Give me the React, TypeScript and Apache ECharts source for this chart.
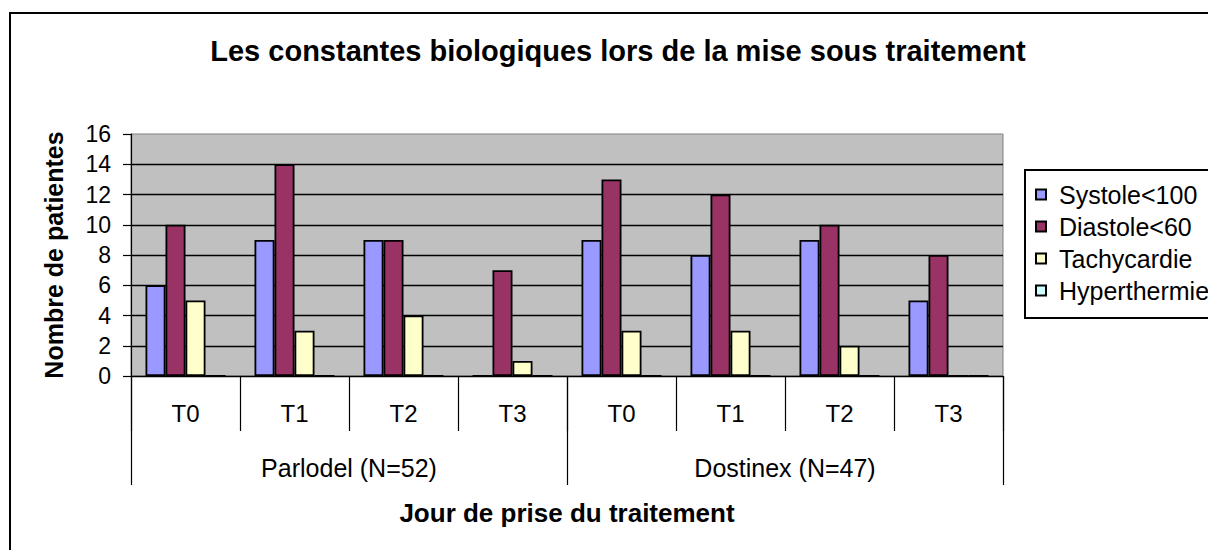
import React, { useEffect, useRef } from "react";
import * as echarts from "echarts";

const categories = ["T0", "T1", "T2", "T3", "T0", "T1", "T2", "T3"];
const groups = ["Parlodel (N=52)", "Dostinex (N=47)"];
const seriesNames = ["Systole<100", "Diastole<60", "Tachycardie", "Hyperthermie"];
const systole = [6, 9, 9, 0, 9, 8, 9, 5];
const diastole = [10, 14, 9, 7, 13, 12, 10, 8];
const tachycardie = [5, 3, 4, 1, 3, 3, 2, 0];
const hyperthermie = [0, 0, 0, 0, 0, 0, 0, 0];
const colors = ["#9999FF", "#993366", "#FFFFCC", "#CCFFFF"];

const FONT = 'Arial, "Liberation Sans", sans-serif';

export default function App() {
  const ref = useRef<HTMLDivElement>(null);
  useEffect(() => {
    if (!ref.current) return;
    const chart = echarts.init(ref.current, null, { renderer: "svg" });
    const values = [systole, diastole, tachycardie, hyperthermie];
    chart.setOption({
      animation: false,
      backgroundColor: "#FFFFFF",
      textStyle: { fontFamily: FONT },
      grid: {
        left: 123,
        top: 126,
        right: 213,
        bottom: 174,
        show: true,
        backgroundColor: "#C0C0C0",
        borderColor: "#808080",
        borderWidth: 1,
      },
      legend: {
        orient: "vertical",
        left: 1016,
        top: 161,
        padding: [13, 10, 13, 11],
        itemWidth: 10,
        itemHeight: 10,
        itemGap: 7,
        icon: "rect",
        borderWidth: 0,
        textStyle: {
          fontFamily: FONT,
          fontSize: 25,
          lineHeight: 25,
          color: "#000000",
          padding: [0, 0, 0, 8],
        },
        data: seriesNames,
      },
      xAxis: [
        {
          type: "category",
          position: "bottom",
          data: categories,
          axisLine: { show: true, lineStyle: { color: "#000000", width: 1.2 } },
          axisTick: { show: true, length: 55, lineStyle: { color: "#000000", width: 1.2 } },
          axisLabel: { fontFamily: FONT, fontSize: 24, color: "#000000", margin: 25, interval: 0 },
          splitLine: { show: false },
        },
        {
          type: "category",
          position: "bottom",
          data: groups,
          axisLine: { show: false },
          axisTick: { show: true, length: 109, lineStyle: { color: "#000000", width: 1.2 } },
          axisLabel: { fontFamily: FONT, fontSize: 25, color: "#000000", margin: 79, interval: 0 },
          splitLine: { show: false },
        },
      ],
      yAxis: {
        type: "value",
        min: 0,
        max: 16,
        interval: 2,
        axisLine: { show: true, lineStyle: { color: "#000000", width: 1.2 } },
        axisTick: { show: true, length: 8, lineStyle: { color: "#000000", width: 1.2 } },
        axisLabel: { fontFamily: FONT, fontSize: 23, color: "#000000", margin: 20 },
        splitLine: { show: true, showMaxLine: false, lineStyle: { color: "#000000", width: 1.3 } },
      },
      series: seriesNames.map((name, i) => ({
        name,
        type: "bar",
        xAxisIndex: 0,
        data: values[i],
        barGap: "0%",
        barCategoryGap: "26.6%",
        itemStyle: { color: colors[i], borderColor: "#000000", borderWidth: 1.8 },
      })),
      graphic: [
        {
          type: "rect",
          shape: { x: 2, y: 5, width: 1400, height: 800 },
          style: { fill: "none", stroke: "#000000", lineWidth: 2 },
          silent: true,
        },
        {
          type: "rect",
          shape: { x: 1017, y: 162, width: 400, height: 148 },
          style: { fill: "none", stroke: "#000000", lineWidth: 2 },
          silent: true,
        },
        {
          type: "text",
          x: 610,
          y: 43,
          style: {
            text: "Les constantes biologiques lors de la mise sous traitement",
            fontFamily: FONT,
            fontSize: 29,
            fontWeight: "bold",
            fill: "#000000",
            textAlign: "center",
            textVerticalAlign: "middle",
          },
        },
        {
          type: "text",
          x: 559,
          y: 505,
          style: {
            text: "Jour de prise du traitement",
            fontFamily: FONT,
            fontSize: 26,
            fontWeight: "bold",
            fill: "#000000",
            textAlign: "center",
            textVerticalAlign: "middle",
          },
        },
        {
          type: "text",
          x: 46,
          y: 247,
          rotation: Math.PI / 2,
          style: {
            text: "Nombre de patientes",
            fontFamily: FONT,
            fontSize: 25,
            fontWeight: "bold",
            fill: "#000000",
            textAlign: "center",
            textVerticalAlign: "middle",
          },
        },
      ],
    });
    return () => chart.dispose();
  }, []);
  return <div ref={ref} style={{ width: 1208, height: 542 }} />;
}
